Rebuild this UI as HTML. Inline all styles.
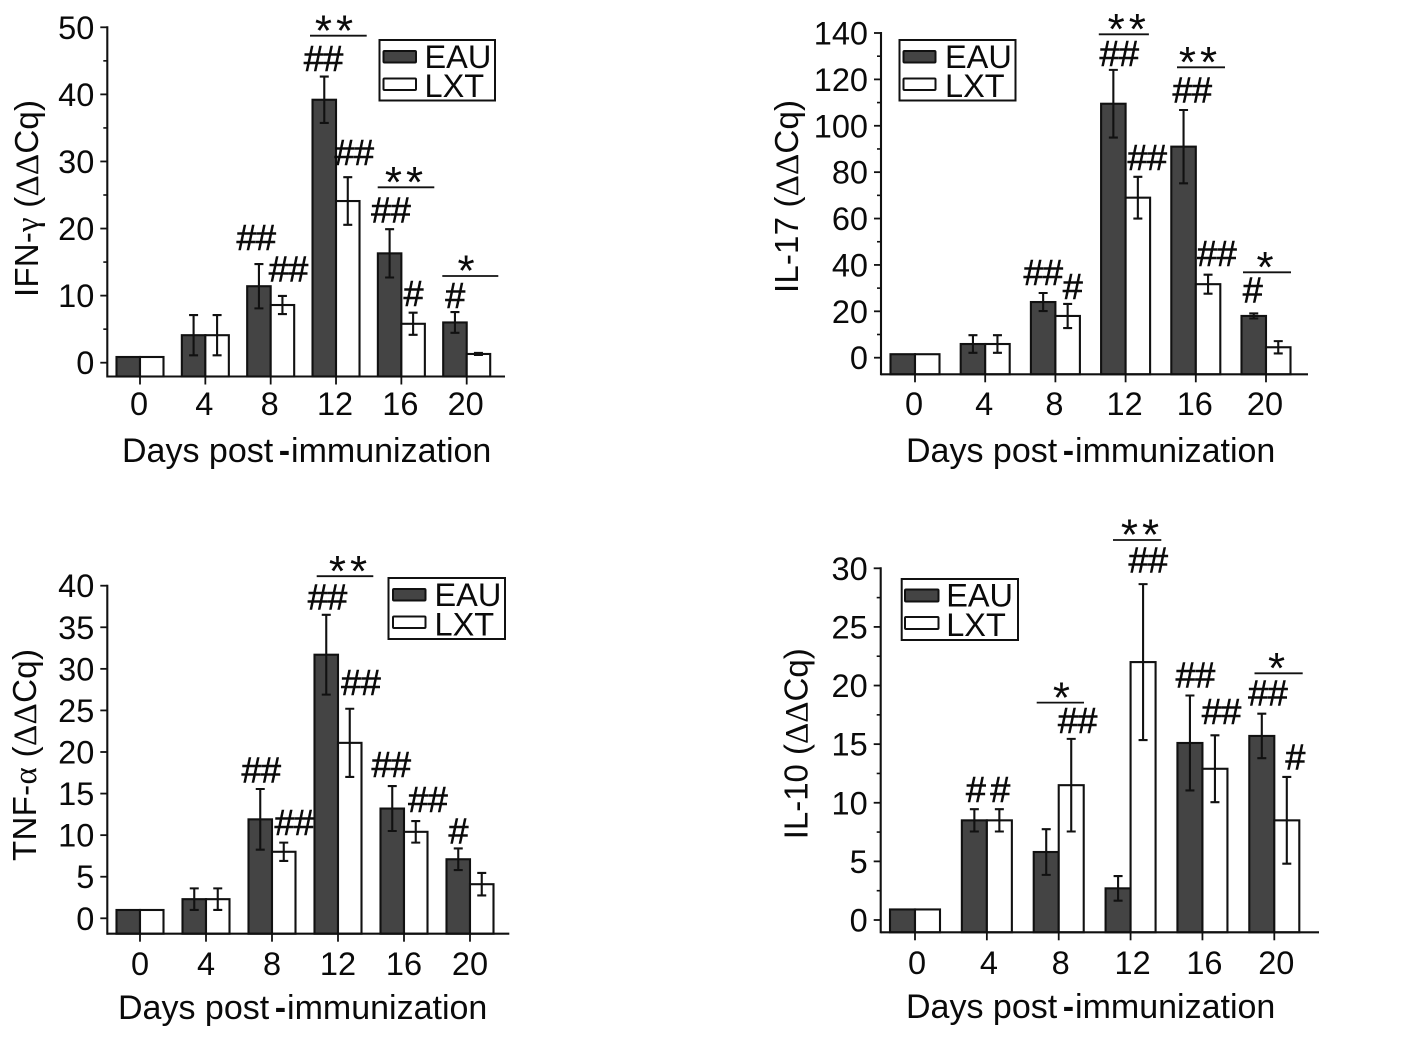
<!DOCTYPE html>
<html lang="en">
<head>
<meta charset="utf-8">
<title>Cytokine expression, days post-immunization</title>
<style>
  html, body { margin: 0; padding: 0; background: #fff; }
  svg { display: block; }
  text { font-family: "Liberation Sans", sans-serif; fill: #0a0a0a; }
  .serif { font-family: "Liberation Serif", serif; }
  .ylab { font-size: 33px; }
  .xlab { font-size: 34px; }
  .leg { font-size: 32.5px; }
  .hash { font-size: 36px; text-anchor: middle; stroke: #0a0a0a; stroke-width: .6px; letter-spacing: -.5px; }
  .star { font-size: 44px; text-anchor: middle; letter-spacing: 4px; }
  .sig { stroke: #111; stroke-width: 1.8; }
  .box { fill: #fff; stroke: #111; stroke-width: 2; }
  .sw-d { fill: #444; stroke: #111; stroke-width: 2; }
  .sw-l { fill: #fff; stroke: #111; stroke-width: 2; }
</style>
</head>
<body>
<svg id="fig" xmlns="http://www.w3.org/2000/svg" width="1419" height="1049" viewBox="0 0 1419 1049">
  <rect width="1419" height="1049" fill="#fff"/>

  <!-- Panel A -->
  <g id="panel-a">
    <text class="ylab" transform="translate(38,297) rotate(-90)" textLength="197">IFN-<tspan class="serif">γ</tspan> (<tspan class="serif">ΔΔ</tspan>Cq)</text>
    <text class="xlab" x="122" y="462">Days post<tspan dx="5.5" font-weight="bold">-</tspan><tspan dx="1">immunization</tspan></text>
    <g>
      <rect class="box" x="379.5" y="40" width="115.5" height="60.5"/>
      <rect class="sw-d" x="383.5" y="51" width="32.5" height="11.5" rx="1"/>
      <text class="leg" x="424.5" y="68">EAU</text>
      <rect class="sw-l" x="383.5" y="78.5" width="32.5" height="11.5" rx="1"/>
      <text class="leg" x="424.5" y="97">LXT</text>
    </g>
    <g>
      <line class="sig" x1="310" x2="366.7" y1="35.7" y2="35.7"/><text class="star" x="336" y="45.5">**</text>
      <line class="sig" x1="377.7" x2="434.3" y1="187.3" y2="187.3"/><text class="star" x="406" y="197">**</text>
      <line class="sig" x1="442.3" x2="498.3" y1="276" y2="276"/><text class="star" x="468" y="285.5">*</text>
      <text class="hash" x="256" y="250">##</text>
      <text class="hash" x="288.3" y="281.7">##</text>
      <text class="hash" x="323.3" y="71">##</text>
      <text class="hash" x="354" y="165">##</text>
      <text class="hash" x="390.7" y="222.7">##</text>
      <text class="hash" x="413.3" y="306">#</text>
      <text class="hash" x="455" y="308">#</text>
    </g>
  </g>

  <!-- Panel B -->
  <g id="panel-b">
    <text class="ylab" transform="translate(798,293) rotate(-90)" textLength="193">IL-17 (<tspan class="serif">ΔΔ</tspan>Cq)</text>
    <text class="xlab" x="906" y="462">Days post<tspan dx="5.5" font-weight="bold">-</tspan><tspan dx="1">immunization</tspan></text>
    <g>
      <rect class="box" x="899.5" y="40" width="116" height="60.5"/>
      <rect class="sw-d" x="903.5" y="51" width="32" height="11.5" rx="1"/>
      <text class="leg" x="945" y="68">EAU</text>
      <rect class="sw-l" x="903.5" y="78.5" width="32" height="11.5" rx="1"/>
      <text class="leg" x="945" y="97">LXT</text>
    </g>
    <g>
      <line class="sig" x1="1098.8" x2="1148.9" y1="34.3" y2="34.3"/><text class="star" x="1128.8" y="44">**</text>
      <line class="sig" x1="1177" x2="1225" y1="67.3" y2="67.3"/><text class="star" x="1200" y="77">**</text>
      <line class="sig" x1="1243" x2="1291" y1="272.3" y2="272.3"/><text class="star" x="1267" y="282">*</text>
      <text class="hash" x="1119" y="66">##</text>
      <text class="hash" x="1147" y="170">##</text>
      <text class="hash" x="1192" y="102.7">##</text>
      <text class="hash" x="1216.7" y="266">##</text>
      <text class="hash" x="1043" y="285">##</text>
      <text class="hash" x="1072.5" y="299">#</text>
      <text class="hash" x="1252.5" y="302.7">#</text>
    </g>
  </g>

  <!-- Panel C -->
  <g id="panel-c">
    <text class="ylab" transform="translate(36,861) rotate(-90)" textLength="212">TNF-<tspan class="serif">α</tspan> (<tspan class="serif">ΔΔ</tspan>Cq)</text>
    <text class="xlab" x="118" y="1019">Days post<tspan dx="5.5" font-weight="bold">-</tspan><tspan dx="1">immunization</tspan></text>
    <g>
      <rect class="box" x="388.5" y="578" width="116.5" height="61"/>
      <rect class="sw-d" x="393" y="589" width="32.5" height="11.5" rx="1"/>
      <text class="leg" x="434.5" y="606">EAU</text>
      <rect class="sw-l" x="393" y="616.5" width="32.5" height="11.5" rx="1"/>
      <text class="leg" x="434.5" y="635.5">LXT</text>
    </g>
    <g>
      <line class="sig" x1="316.7" x2="373.3" y1="576.2" y2="576.2"/><text class="star" x="350" y="586">**</text>
      <text class="hash" x="327.3" y="609.5">##</text>
      <text class="hash" x="360.7" y="695">##</text>
      <text class="hash" x="261" y="782.5">##</text>
      <text class="hash" x="294" y="834.8">##</text>
      <text class="hash" x="391" y="777">##</text>
      <text class="hash" x="427.7" y="812">##</text>
      <text class="hash" x="458.3" y="843.3">#</text>
    </g>
  </g>

  <!-- Panel D -->
  <g id="panel-d">
    <text class="ylab" transform="translate(807.5,839.3) rotate(-90)" textLength="191">IL-10 (<tspan class="serif">ΔΔ</tspan>Cq)</text>
    <text class="xlab" x="906" y="1018">Days post<tspan dx="5.5" font-weight="bold">-</tspan><tspan dx="1">immunization</tspan></text>
    <g>
      <rect class="box" x="901.7" y="579" width="116.3" height="61"/>
      <rect class="sw-d" x="905" y="589.5" width="33.5" height="12" rx="1"/>
      <text class="leg" x="946.2" y="606.7">EAU</text>
      <rect class="sw-l" x="905" y="617" width="33.5" height="12" rx="1"/>
      <text class="leg" x="946.2" y="636">LXT</text>
    </g>
    <g>
      <line class="sig" x1="1113" x2="1161.3" y1="540" y2="540"/><text class="star" x="1142" y="549.5">**</text>
      <line class="sig" x1="1036.7" x2="1084" y1="702.6" y2="702.6"/><text class="star" x="1063.4" y="712.5">*</text>
      <line class="sig" x1="1254.5" x2="1302.7" y1="673.3" y2="673.3"/><text class="star" x="1278.6" y="683">*</text>
      <text class="hash" x="1148" y="572.7">##</text>
      <text class="hash" x="975.7" y="802.2">#</text>
      <text class="hash" x="1000" y="802.2">#</text>
      <text class="hash" x="1077.4" y="733">##</text>
      <text class="hash" x="1195.2" y="687.4">##</text>
      <text class="hash" x="1221.3" y="724">##</text>
      <text class="hash" x="1267.7" y="705.3">##</text>
      <text class="hash" x="1295.2" y="769.4">#</text>
    </g>
  </g>
</svg>

<script>
// Shared category axis
const days = [0, 4, 8, 12, 16, 20];

// IFN-gamma
const ifnTicks = [0, 10, 20, 30, 40, 50];
const ifnEau = [0.85, 4.1, 11.4, 39.2, 16.3, 6.0];
const ifnEauErr = [0, 3, 3.3, 3.45, 3.6, 1.55];
const ifnLxt = [0.85, 4.1, 8.6, 24.1, 5.8, 1.3];
const ifnLxtErr = [0, 3, 1.35, 3.55, 1.65, 0.15];

// IL-17
const il17Ticks = [0, 20, 40, 60, 80, 100, 120, 140];
const il17Eau = [1.5, 5.9, 24, 109.5, 91, 18];
const il17EauErr = [0, 3.8, 3.9, 14.6, 15.8, 1.1];
const il17Lxt = [1.5, 5.9, 18, 69, 31.7, 4.5];
const il17LxtErr = [0, 3.8, 5.2, 9, 4.1, 2.65];

// TNF-alpha
const tnfTicks = [0, 5, 10, 15, 20, 25, 30, 35, 40];
const tnfEau = [1.0, 2.3, 11.9, 31.7, 13.2, 7.1];
const tnfEauErr = [0, 1.3, 3.65, 4.8, 2.7, 1.3];
const tnfLxt = [1.0, 2.3, 8.0, 21.1, 10.4, 4.1];
const tnfLxtErr = [0, 1.3, 1.1, 4.1, 1.3, 1.35];

// IL-10
const il10Ticks = [0, 5, 10, 15, 20, 25, 30];
const il10Eau = [0.9, 8.5, 5.8, 2.7, 15.1, 15.7];
const il10EauErr = [0, 0.95, 1.95, 1.05, 4.05, 1.9];
const il10Lxt = [0.9, 8.5, 11.5, 22, 12.9, 8.5];
const il10LxtErr = [0, 0.95, 3.95, 6.65, 2.85, 3.7];

const NS = 'http://www.w3.org/2000/svg';

function el(parent, tag, attrs, txt) {
  const n = document.createElementNS(NS, tag);
  for (const k in attrs) n.setAttribute(k, attrs[k]);
  if (txt !== undefined) n.textContent = txt;
  parent.appendChild(n);
  return n;
}

function drawPanel(o) {
  const root = document.getElementById(o.id);
  const first = root.firstElementChild;
  const g = document.createElementNS(NS, 'g');
  
  
  root.insertBefore(g, first);

  const topValue = o.ticks[o.ticks.length - 1];
  const y = v => o.y0 - (v / topValue) * (o.y0 - o.yTop);
  const lastDay = days[days.length - 1];
  const x = d => o.x0 + (d / lastDay) * (o.x1 - o.x0);

  // bars
  days.forEach((d, i) => {
    const cx = x(d);
    const a = el(g, 'rect', { x: cx - o.bw, y: y(o.eau[i]), width: o.bw, height: o.axisY - y(o.eau[i]), fill: '#444', stroke: '#111', 'stroke-width': 2.1 });
    
    
    const b = el(g, 'rect', { x: cx, y: y(o.lxt[i]), width: o.bw, height: o.axisY - y(o.lxt[i]), fill: '#fff', stroke: '#111', 'stroke-width': 2.1 });
    
    
  });

  // error bars
  function err(cx, v, e, nameKind) {
    if (!e) return;
    const p = 'M' + (cx - 4.5) + ' ' + y(v + e) + 'H' + (cx + 4.5) +
      'M' + cx + ' ' + y(v + e) + 'V' + y(v - e) +
      'M' + (cx - 4.5) + ' ' + y(v - e) + 'H' + (cx + 4.5);
    const n = el(g, 'path', { d: p, fill: 'none', stroke: '#111', 'stroke-width': 2.1 });
    
    
  }
  days.forEach((d, i) => {
    const cx = x(d);
    err(cx - o.bw / 2, o.eau[i], o.eauErr[i], 'error-bar-eau');
    err(cx + o.bw / 2, o.lxt[i], o.lxtErr[i], 'error-bar-lxt');
  });

  // axes
  const yAxis = el(g, 'line', { x1: o.axisX, x2: o.axisX, y1: y(topValue) - 1, y2: o.axisY + 1, stroke: '#111', 'stroke-width': 2.1 });
  
  
  const xAxis = el(g, 'line', { x1: o.axisX, x2: o.axisEnd, y1: o.axisY, y2: o.axisY, stroke: '#111', 'stroke-width': 2.1 });
  
  

  o.ticks.forEach((t, i) => {
    const tk = el(g, 'line', { x1: o.axisX - 7, x2: o.axisX, y1: y(t), y2: y(t), stroke: '#111', 'stroke-width': 1.8 });
    
    
    const lb = el(g, 'text', { x: o.axisX - 13, y: y(t) + 11.5, 'text-anchor': 'end', 'font-size': 32.5 }, String(t));
    
    
    if (o.minor && i < o.ticks.length - 1) {
      const my = y((t + o.ticks[i + 1]) / 2);
      const mk = el(g, 'line', { x1: o.axisX - 4, x2: o.axisX, y1: my, y2: my, stroke: '#111', 'stroke-width': 1.6 });
      
      
    }
  });

  days.forEach(d => {
    const tk = el(g, 'line', { x1: x(d), x2: x(d), y1: o.axisY, y2: o.axisY + 8, stroke: '#111', 'stroke-width': 1.8 });
    
    
    const lb = el(g, 'text', { x: x(d) + o.labelDx, y: o.labelY, 'text-anchor': 'middle', 'font-size': 32.5 }, String(d));
    
    
  });
}

drawPanel({ id: 'panel-a', ticks: ifnTicks, eau: ifnEau, eauErr: ifnEauErr, lxt: ifnLxt, lxtErr: ifnLxtErr,
  y0: 362.7, yTop: 27.3, x0: 140, x1: 466.7, bw: 23.5, axisX: 107.3, axisY: 376.5, axisEnd: 505, labelY: 415, labelDx: -1, minor: true });
drawPanel({ id: 'panel-b', ticks: il17Ticks, eau: il17Eau, eauErr: il17EauErr, lxt: il17Lxt, lxtErr: il17LxtErr,
  y0: 357.7, yTop: 33, x0: 915, x1: 1266, bw: 24.5, axisX: 881, axisY: 374.3, axisEnd: 1308, labelY: 415, labelDx: -1, minor: true });
drawPanel({ id: 'panel-c', ticks: tnfTicks, eau: tnfEau, eauErr: tnfEauErr, lxt: tnfLxt, lxtErr: tnfLxtErr,
  y0: 918.3, yTop: 585.7, x0: 140, x1: 470, bw: 23.5, axisX: 107.3, axisY: 933.7, axisEnd: 509.3, labelY: 975, labelDx: 0, minor: false });
drawPanel({ id: 'panel-d', ticks: il10Ticks, eau: il10Eau, eauErr: il10EauErr, lxt: il10Lxt, lxtErr: il10LxtErr,
  y0: 920, yTop: 568.3, x0: 915, x1: 1274.3, bw: 25, axisX: 880.7, axisY: 932.3, axisEnd: 1319, labelY: 974, labelDx: 2, minor: true });
</script>
</body>
</html>
